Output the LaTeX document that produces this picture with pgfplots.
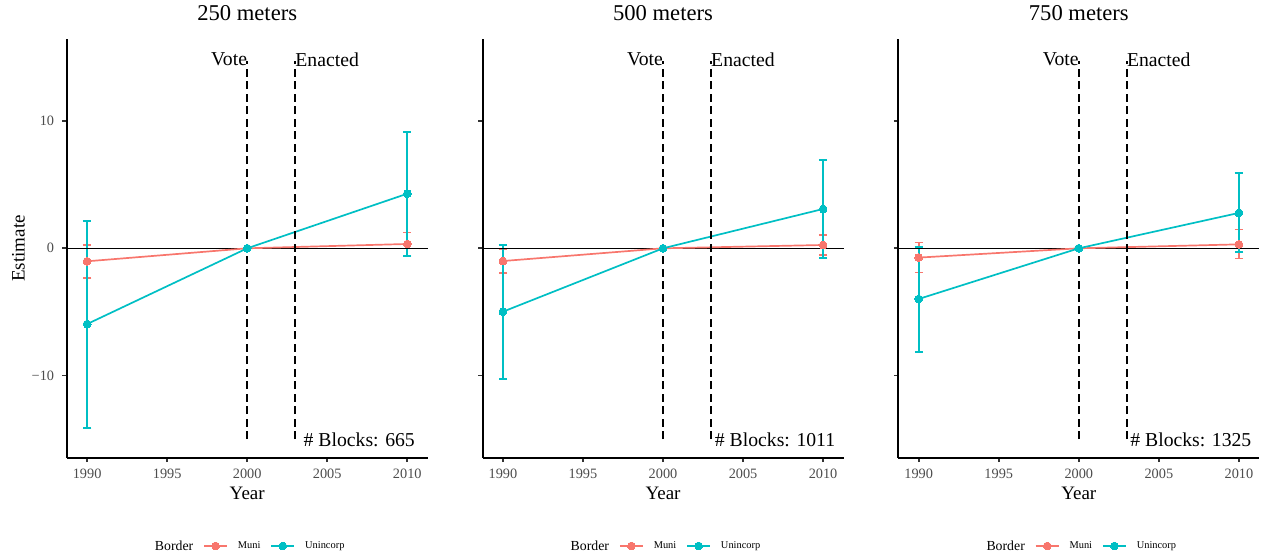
\documentclass[border=0pt]{standalone}
\usepackage{pgfplots}
\usepackage{pgfplotstable}
\pgfplotsset{compat=1.18}
\usepackage{fontspec}
\setmainfont{Liberation Serif}

\definecolor{muni}{HTML}{F8766D}
\definecolor{uninc}{HTML}{00BFC4}
\definecolor{ticktext}{HTML}{4D4D4D}
\definecolor{tickline}{HTML}{333333}

\newcommand\titlefont{\fontsize{22.6bp}{26bp}\selectfont}
\newcommand\annotfont{\fontsize{19.7bp}{23bp}\selectfont}
\newcommand\labfont{\fontsize{19bp}{22bp}\selectfont}
\newcommand\tickfont{\fontsize{14.3bp}{16bp}\selectfont}
\newcommand\legtitlefont{\fontsize{13.8bp}{16bp}\selectfont}
\newcommand\legfont{\fontsize{10.4bp}{12bp}\selectfont}

% event-study estimates: year, estimate, lower and upper CI
\pgfplotstableread{
year est lo hi
1990 -1.02 -2.33 0.26
2000 0 0 0
2010 0.34 -0.57 1.25
}\muniA
\pgfplotstableread{
year est lo hi
1990 -5.95 -14.10 2.17
2000 0 0 0
2010 4.29 -0.58 9.14
}\unincA
\pgfplotstableread{
year est lo hi
1990 -1.00 -1.92 -0.08
2000 0 0 0
2010 0.26 -0.53 1.04
}\muniB
\pgfplotstableread{
year est lo hi
1990 -4.98 -10.24 0.28
2000 0 0 0
2010 3.09 -0.74 6.92
}\unincB
\pgfplotstableread{
year est lo hi
1990 -0.73 -1.89 0.45
2000 0 0 0
2010 0.31 -0.81 1.47
}\muniC
\pgfplotstableread{
year est lo hi
1990 -3.98 -8.12 0.13
2000 0 0 0
2010 2.78 -0.31 5.89
}\unincC

\pgfplotsset{
  panel/.style={
    scale only axis, width=361bp, height=418.4bp, anchor=south west,
    xmin=1988.725, xmax=2011.275, ymin=-16.45, ymax=16.42,
    axis x line*=bottom, axis y line*=left,
    axis line style={line width=2bp, black, -},
    xtick={1990,1995,2000,2005,2010},
    xticklabels={1990,1995,2000,2005,2010},
    ytick={-10,0,10},
    tick align=outside, major tick length=4.5bp,
    tick style={line width=1.8bp, tickline},
    ticklabel style={font=\tickfont, text=ticktext},
    xticklabel style={inner sep=0pt, yshift=-6.8bp},
    yticklabel style={anchor=east, inner sep=0pt, xshift=-7.9bp},
    title style={at={(axis description cs:0.5,1)}, anchor=base, yshift=13.3bp, font=\titlefont},
    xlabel={Year},
    xlabel style={at={(axis description cs:0.5,0)}, anchor=base, yshift=-41.3bp, font=\labfont},
    ylabel style={at={(axis description cs:-0.134,0.5)}, anchor=center, font=\labfont},
    clip=false,
    legend columns=-1,
    legend cell align=left,
    legend style={at={(axis description cs:0.5,-0.211)}, anchor=center,
      draw=none, fill=none, column sep=5bp, inner sep=0pt,
      nodes={inner xsep=5bp, inner ysep=0pt}, font=\legfont},
  },
  errs/.style={forget plot, draw=none, mark=none,
    error bars/.cd, y dir=both, y explicit, error mark=|,
    error bar style={draw=#1, line width=1.7bp, solid},
    error mark options={draw=#1, line width=1.7bp, mark size=4.2bp}},
  series/.style={forget plot, color=#1, line width=1.7bp, mark=*, mark size=3.9bp,
    mark options={solid, fill=#1, draw=#1, line width=0pt}},
  keyimg/.style={color=#1, line width=1.7bp, mark=*, mark size=3.9bp,
    mark options={solid, fill=#1, draw=#1, line width=0pt},
    legend image code/.code={\draw[mark repeat=2,mark phase=2,##1]
      plot coordinates {(0bp,0bp) (11.5bp,0bp) (23bp,0bp)};}},
  vline/.style={forget plot, black, line width=2.5bp, dash pattern=on 8bp off 4.5bp},
  hzero/.style={forget plot, black, line width=1.6bp},
}

\newcommand\panelbody[3]{%
  \addplot[errs=muni] table[x=year, y=est,
    y error plus expr=\thisrow{hi}-\thisrow{est},
    y error minus expr=\thisrow{est}-\thisrow{lo}] {#1};
  \addplot[errs=uninc] table[x=year, y=est,
    y error plus expr=\thisrow{hi}-\thisrow{est},
    y error minus expr=\thisrow{est}-\thisrow{lo}] {#2};
  \addplot[hzero] coordinates {(1988.725,0) (2011.275,0)};
  \addplot[series=muni] table[x=year, y=est] {#1};
  \addplot[series=uninc] table[x=year, y=est] {#2};
  \addplot[vline] coordinates {(2000,-15) (2000,14.7)};
  \addplot[vline] coordinates {(2003,-15) (2003,14.7)};
  \node[anchor=east, inner sep=0pt, font=\annotfont] at (axis cs:2000,14.85) {Vote};
  \node[anchor=west, inner sep=0pt, font=\annotfont] at (axis cs:2003,14.85) {Enacted};
  \node[anchor=center, inner sep=0pt, font=\annotfont] at (axis cs:2007,-15.06) {\# Blocks: #3};
  \addlegendimage{empty legend}
  \addlegendentry{\legtitlefont Border}
  \addlegendimage{keyimg=muni}
  \addlegendentry{Muni}
  \addlegendimage{keyimg=uninc}
  \addlegendentry{Unincorp}
}

\begin{document}
\begin{tikzpicture}
\useasboundingbox (0,0) rectangle (1263bp,559bp);

\begin{axis}[panel, at={(66.7bp,101.3bp)}, title={250 meters},
  ylabel={Estimate}, yticklabels={−10,0,10}]
\panelbody{\muniA}{\unincA}{665}
\end{axis}

\begin{axis}[panel, at={(482.5bp,101.3bp)}, title={500 meters},
  yticklabels={}]
\panelbody{\muniB}{\unincB}{1011}
\end{axis}

\begin{axis}[panel, at={(898.3bp,101.3bp)}, title={750 meters},
  yticklabels={}]
\panelbody{\muniC}{\unincC}{1325}
\end{axis}
\end{tikzpicture}
\end{document}
